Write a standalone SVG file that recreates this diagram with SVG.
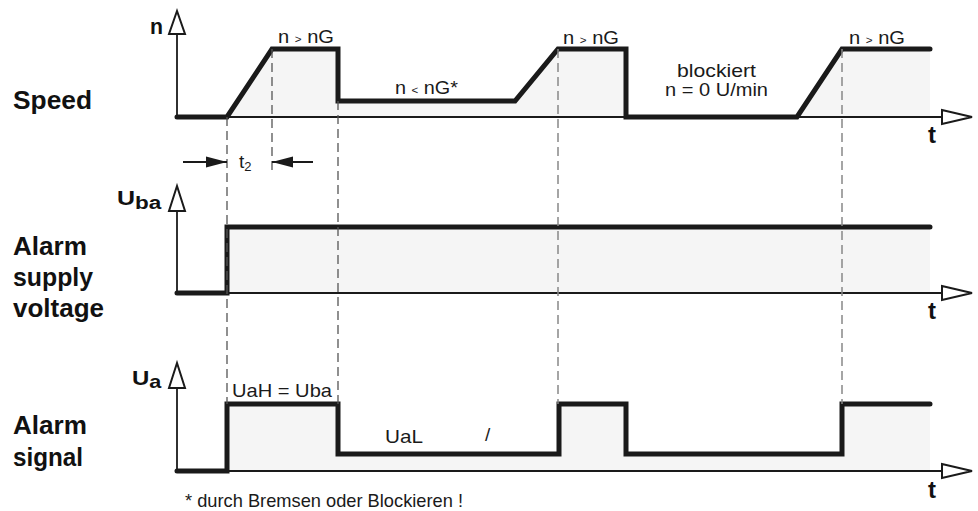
<svg xmlns="http://www.w3.org/2000/svg" width="978" height="511" viewBox="0 0 978 511">
<style>
.bg{fill:#ffffff}
.fill{fill:#f5f5f5;stroke:none}
.sig{fill:none;stroke:#1a1a1a;stroke-width:5;stroke-linejoin:miter;stroke-linecap:round}
.axis{fill:none;stroke:#1a1a1a;stroke-width:1.8}
.head{fill:#ffffff;stroke:#1a1a1a;stroke-width:2;stroke-linejoin:miter}
.dash{fill:none;stroke:#555;stroke-width:1.3;stroke-dasharray:9,5}
.dash2{fill:none;stroke:#888;stroke-width:1.5;stroke-dasharray:9,5}
.lbl{font-family:"Liberation Sans",Arial,sans-serif;font-weight:bold;font-size:25px;fill:#111}
.ax{font-family:"Liberation Sans",Arial,sans-serif;font-weight:bold;fill:#111}
.txt{font-family:"Liberation Sans",Arial,sans-serif;font-size:19px;fill:#1a1a1a}
.dim{fill:none;stroke:#1a1a1a;stroke-width:1.8}
</style>
<defs>
<marker id="ah" markerWidth="22" markerHeight="12" refX="21" refY="6" orient="auto" markerUnits="userSpaceOnUse">
<path d="M0,0.5 L21,6 L0,11.5 Z" fill="#1a1a1a"/>
</marker>
</defs>
<rect class="bg" x="0" y="0" width="978" height="511"/>

<g id="speed">
<polygon class="fill" points="227,117 272,49 338,49 338,101 515,101 558,49 626,49 626,117 797,117 842,49 930,49 930,117"/>
<line class="axis" x1="177" y1="117" x2="942" y2="117"/>
<line class="axis" x1="177" y1="117" x2="177" y2="34"/>
<polygon class="head" points="177,11 169,34 185,34"/>
<polygon class="head" points="942,110 972,117 942,124"/>
<polyline class="sig" points="177,117 227,117 272,49 338,49 338,101 515,101 558,49 626,49 626,117 797,117 842,49 930,49"/>
<text class="ax" x="150" y="34" font-size="22" textLength="13" lengthAdjust="spacingAndGlyphs">n</text>
<text class="ax" x="932" y="143" font-size="24" text-anchor="middle">t</text>
<text class="txt" x="278" y="43" textLength="56" lengthAdjust="spacingAndGlyphs">n <tspan font-size="11">&gt;</tspan> nG</text>
<text class="txt" x="563" y="44" textLength="56" lengthAdjust="spacingAndGlyphs">n <tspan font-size="11">&gt;</tspan> nG</text>
<text class="txt" x="849" y="44" textLength="56" lengthAdjust="spacingAndGlyphs">n <tspan font-size="11">&gt;</tspan> nG</text>
<text class="txt" x="395" y="94" textLength="63" lengthAdjust="spacingAndGlyphs">n <tspan font-size="11">&lt;</tspan> nG*</text>
<text class="txt" x="677" y="77" font-size="20" textLength="79" lengthAdjust="spacingAndGlyphs">blockiert</text>
<text class="txt" x="665" y="96" font-size="20" textLength="103" lengthAdjust="spacingAndGlyphs">n = 0 U/min</text>
</g>

<g id="supply">
<polygon class="fill" points="227,227 930,227 930,293 227,293"/>
<line class="axis" x1="177" y1="293" x2="942" y2="293"/>
<line class="axis" x1="177" y1="293" x2="177" y2="211"/>
<polygon class="head" points="177,186 169,211 185,211"/>
<polygon class="head" points="942,286 972,293 942,300"/>
<polyline class="sig" points="177,293 227,293 227,227 930,227"/>
<text class="ax" transform="translate(117,205) scale(1.25,1)"><tspan font-size="20">U</tspan><tspan font-size="18" dy="4">ba</tspan></text>
<text class="ax" x="932" y="319" font-size="24" text-anchor="middle">t</text>
</g>

<g id="signal">
<polygon class="fill" points="227,404 338,404 338,454 559,454 559,404 626,404 626,454 842,454 842,404 930,404 930,471 227,471"/>
<line class="axis" x1="177" y1="471" x2="942" y2="471"/>
<line class="axis" x1="177" y1="471" x2="177" y2="388"/>
<polygon class="head" points="177,363 169,388 185,388"/>
<polygon class="head" points="942,464 972,471 942,478"/>
<polyline class="sig" points="177,471 227,471 227,404 338,404 338,454 559,454 559,404 626,404 626,454 842,454 842,404 930,404"/>
<text class="ax" transform="translate(132,385) scale(1.2,1)"><tspan font-size="20">U</tspan><tspan font-size="18" dy="3">a</tspan></text>
<text class="ax" x="932" y="498" font-size="24" text-anchor="middle">t</text>
<text class="txt" x="232" y="397" textLength="100" lengthAdjust="spacingAndGlyphs">UaH = Uba</text>
<text class="txt" x="385" y="443" textLength="38" lengthAdjust="spacingAndGlyphs">UaL</text>
<text class="txt" x="485" y="441" font-size="12">/</text>
</g>

<g id="connectors">
<line class="dash" x1="227" y1="117" x2="227" y2="404"/>
<line class="dash" x1="272" y1="49" x2="272" y2="170"/>
<line class="dash" x1="338" y1="101" x2="338" y2="404"/>
<line class="dash2" x1="558" y1="49" x2="558" y2="404"/>
<line class="dash2" x1="842" y1="49" x2="842" y2="404"/>
<line class="dim" x1="183" y1="162" x2="227" y2="162" marker-end="url(#ah)"/>
<line class="dim" x1="313" y1="162" x2="272" y2="162" marker-end="url(#ah)"/>
</g>

<g id="labels">
<text class="txt" x="239" y="168" font-size="18">t<tspan font-size="13" dy="3">2</tspan></text>
<text class="lbl" x="13" y="109" textLength="79" lengthAdjust="spacingAndGlyphs">Speed</text>
<text class="lbl" x="13" y="255" textLength="74" lengthAdjust="spacingAndGlyphs">Alarm</text>
<text class="lbl" x="13" y="286" textLength="80" lengthAdjust="spacingAndGlyphs">supply</text>
<text class="lbl" x="13" y="317" textLength="91" lengthAdjust="spacingAndGlyphs">voltage</text>
<text class="lbl" x="13" y="434" textLength="74" lengthAdjust="spacingAndGlyphs">Alarm</text>
<text class="lbl" x="13" y="466" textLength="70" lengthAdjust="spacingAndGlyphs">signal</text>
<text class="txt" x="185" y="507" font-size="20" textLength="278" lengthAdjust="spacingAndGlyphs">* durch Bremsen oder Blockieren !</text>
</g>
</svg>
